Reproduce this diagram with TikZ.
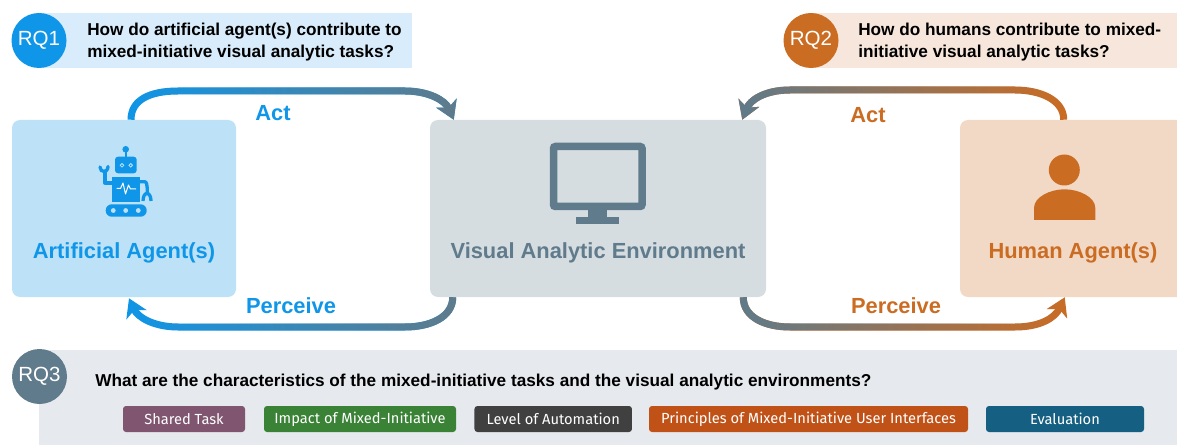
\documentclass[tikz,border=0pt]{standalone}
\usepackage{fontspec}
\setmainfont{Liberation Sans}
\newfontfamily\chipfont{Fira Sans}
\usetikzlibrary{calc, arrows.meta, fadings}
\def\unit{0.75}
\definecolor{bluedark}{HTML}{0F96E8}
\definecolor{bluebox}{HTML}{BDE2F8}
\definecolor{blueband}{HTML}{D8ECFB}
\definecolor{slate}{HTML}{607B8B}
\definecolor{slatebox}{HTML}{D6DDE1}
\definecolor{slateband}{HTML}{E6E9ED}
\definecolor{orangedark}{HTML}{CB6C23}
\definecolor{orangebox}{HTML}{F2D9C6}
\definecolor{orangeband}{HTML}{F7E6DB}
\definecolor{chipmauve}{HTML}{7F5570}
\definecolor{chipgreen}{HTML}{3A8236}
\definecolor{chipdark}{HTML}{404040}
\definecolor{chiprust}{HTML}{C05217}
\definecolor{chipteal}{HTML}{156082}
\tikzfading[name=slateeast, left color=transparent!100, middle color=transparent!65, right color=transparent!0]
\tikzfading[name=slatewest, left color=transparent!0, middle color=transparent!70, right color=transparent!100]
\tikzset{
    agentbox/.style = {rounded corners=8*\unit pt, minimum height=177*\unit pt, inner sep=0pt},
    agentname/.style = {font=\fontsize{16.4}{18}\selectfont\bfseries},
    flowlabel/.style = {font=\fontsize{16.4}{18}\selectfont\bfseries},
    rqdot/.style = {circle, minimum size=55*\unit pt, inner sep=0pt, text=white, font=\fontsize{15.4}{18}\selectfont},
    question/.style = {anchor=west, align=left, inner sep=0pt, font=\fontsize{12.9}{16.5}\selectfont\bfseries},
    chip/.style = {rounded corners=3*\unit pt, minimum height=26*\unit pt, inner sep=0pt, text=white, font=\fontsize{11}{13}\chipfont},
    flow/.style = {line width=7*\unit pt, -{Stealth[length=18*\unit pt, width=22*\unit pt, inset=5*\unit pt]}},
}
% #1 end colour, #2 fading towards slate, #3 path
\def\flowarrow#1#2#3{
    \draw[flow, color=#1] #3;
    \draw[flow, color=slate, path fading=#2] #3;
}
\begin{document}
\begin{tikzpicture}[x=\unit pt, y=-\unit pt]
        \useasboundingbox (0,0) rectangle (1177,445);
        \clip (0,0) rectangle (1177,445);

        % question bands
        \fill[blueband] (39,13) rectangle (412,68);
        \fill[orangeband] (811,13) rectangle (1177,68);
        \fill[slateband] (39,350) rectangle (1177,445);

        % agents and environment
        \node[agentbox, fill=bluebox, minimum width=224*\unit pt] (artificial) at (124,208.5) {};
        \node[agentbox, fill=slatebox, minimum width=336*\unit pt] (environment) at (598,208.5) {};
        \node[agentbox, fill=orangebox, minimum width=240*\unit pt] (human) at (1080,208.5) {};
        \node[agentname, text=bluedark] (artificialname) at (124,253) {Artificial Agent(s)};
        \node[agentname, text=slate] (environmentname) at (598,253) {Visual Analytic Environment};
        \node[agentname, text=orangedark] (humanname) at (1073,253) {Human Agent(s)};

        % flows
        \flowarrow{bluedark}{slateeast}{($(artificial.north)+(7,0)$) .. controls +(0,-20) and (150,91) .. (178,91) -- (405,91) .. controls (428,91) and (445,100) .. ($(environment.north west)+(24,0)$)}
        \flowarrow{bluedark}{slateeast}{($(environment.south west)+(23,0)$) .. controls +(0,20) and (430,327) .. (405,327) -- (178,327) .. controls (155,327) and (138,318) .. ($(artificial.south)+(5,1)$)}
        \flowarrow{orangedark}{slatewest}{($(human.north west)+(104,0)$) .. controls +(0,-20) and (1040,90) .. (1015,90) -- (790,90) .. controls (765,90) and (750,100) .. ($(environment.north east)+(-24,0)$)}
        \flowarrow{orangedark}{slatewest}{($(environment.south east)+(-23,0)$) .. controls +(0,20) and (765,327) .. (790,327) -- (1015,327) .. controls (1040,327) and (1055,318) .. ($(human.south west)+(105,0)$)}
        \node[flowlabel, text=bluedark] (actleft) at (273,113) {Act};
        \node[flowlabel, text=bluedark] (perceiveleft) at (291,306) {Perceive};
        \node[flowlabel, text=orangedark] (actright) at (868,115) {Act};
        \node[flowlabel, text=orangedark] (perceiveright) at (896,306) {Perceive};

        % robot
        \fill[bluedark] (125.7,149.3) circle (3.3);
        \draw[bluedark, line width=2*\unit pt] (125.7,150) -- (125.7,158);
        \fill[bluedark, rounded corners=3*\unit pt] (115,156.7) rectangle (136.7,173.3);
        \draw[bluebox, line width=0.8*\unit pt] (122,165.3) circle (1.8) (130.7,165.3) circle (1.8);
        \fill[bluedark] (112.3,176.7) rectangle (140,201.7);
        \draw[white, line width=1*\unit pt, line join=round] (116.5,188.5) -- (120.5,188.5) -- (123,183) -- (125.5,194) -- (128.5,185) -- (130.5,189) -- (136,189);
        \draw[bluedark, line width=3.3*\unit pt, line join=round] (113,183) -- (105,183) -- (105,172);
        \draw[bluedark, line width=3.3*\unit pt, line cap=round] (100,167) .. controls (100,173) and (108,173) .. (108,166.5);
        \draw[bluedark, line width=3.3*\unit pt, line join=round] (139,181.7) -- (144.5,181.7) .. controls (146.5,181.7) and (147.3,184) .. (147.3,193);
        \draw[bluedark, line width=3.3*\unit pt] (143,201) .. controls (143,191) and (151,191) .. (151,201);
        \fill[bluedark, rounded corners=6*\unit pt] (105.7,204.3) rectangle (146.7,216.7);
        \fill[bluebox] (113.3,210.5) circle (2.4) (125.7,210.5) circle (2.4) (138.3,210.5) circle (2.4);

        % monitor
        \draw[slate, line width=7.5*\unit pt, rounded corners=2*\unit pt] (553.5,146.5) rectangle (642,206.5);
        \fill[slate] (588.3,210) rectangle (607.3,217.3);
        \fill[slate] (576,217.3) rectangle (619.3,224.3);

        % person
        \fill[orangedark] (1064.3,170) circle (15.5);
        \fill[orangedark] (1034,220) -- (1034,208) .. controls (1034,197) and (1050,189.3) .. (1064.6,189.3) .. controls (1079,189.3) and (1095.3,197) .. (1095.3,208) -- (1095.3,220) -- cycle;

        % research questions
        \node[rqdot, fill=bluedark] (rqone) at (39,40.5) {RQ1};
        \node[rqdot, fill=orangedark] (rqtwo) at (811,40.5) {RQ2};
        \node[rqdot, fill=slate] (rqthree) at (39.5,376.5) {RQ3};
        \node[question] (questionone) at (87,42) {How do artificial agent(s) contribute to\\mixed-initiative visual analytic tasks?};
        \node[question] (questiontwo) at (858,42) {How do humans contribute to mixed-\\initiative visual analytic tasks?};
        \node[question] (questionthree) at (95,382) {What are the characteristics of the mixed-initiative tasks and the visual analytic environments?};

        % themes
        \node[chip, fill=chipmauve, minimum width=122*\unit pt] (sharedtask) at (184,419) {Shared Task};
        \node[chip, fill=chipgreen, minimum width=192*\unit pt] (impact) at (360,419) {Impact of Mixed-Initiative};
        \node[chip, fill=chipdark, minimum width=157.5*\unit pt] (automation) at (553.2,419) {Level of Automation};
        \node[chip, fill=chiprust, minimum width=319*\unit pt] (principles) at (808.5,419) {Principles of Mixed-Initiative User Interfaces};
        \node[chip, fill=chipteal, minimum width=158*\unit pt] (evaluation) at (1065,419) {Evaluation};
    \end{tikzpicture}
\end{document}
